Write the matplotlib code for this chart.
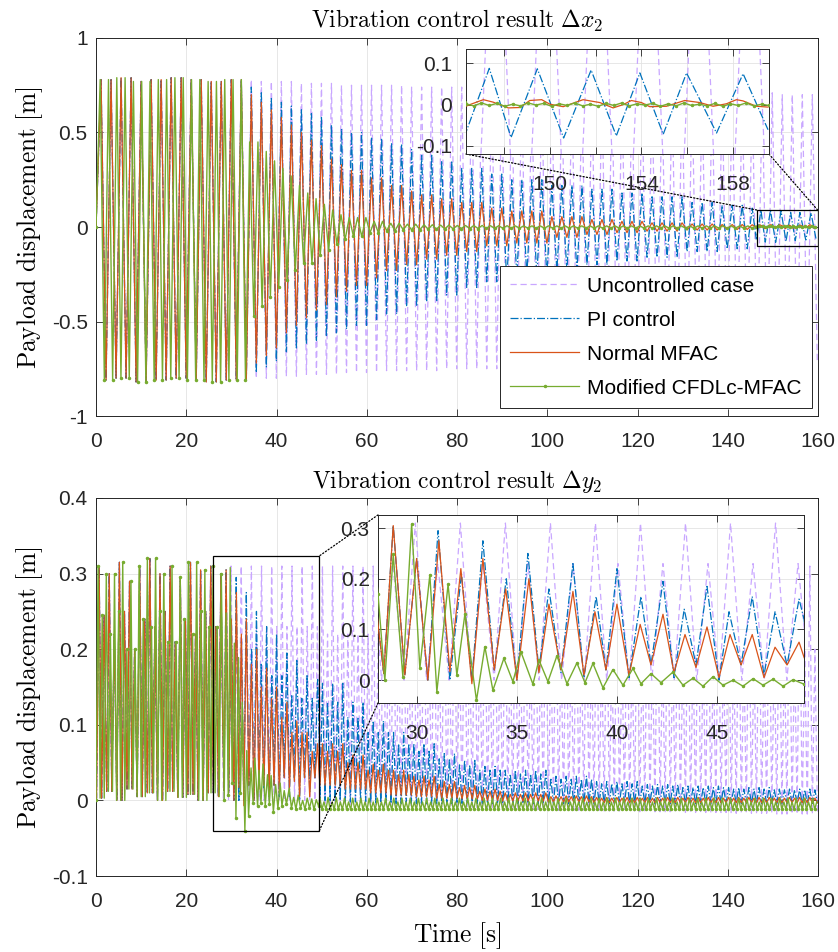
import numpy as np
import matplotlib.pyplot as plt
from matplotlib.lines import Line2D
from matplotlib.patches import Rectangle, ConnectionPatch

plt.rcParams['font.family'] = ['Liberation Sans', 'DejaVu Sans']
plt.rcParams['mathtext.fontset'] = 'cm'

# kolory (MATLAB)
c_unc = '#C9A7FF'
c_pi = '#0072BD'
c_mfac = '#D95319'
c_mod = '#77AC30'

T_END = 160.0

# ---------------- Delta x2 : obwiednie ----------------
hp_x = 1.11       # pol okresu wahan [s]
hp_x_mod = 0.92
# przed wlaczeniem sterowania (wspolne dla wszystkich przebiegow)
tx_free = [0, 4, 8, 12, 16, 20, 24, 28]
up_x_free = [0.78, 0.79, 0.77, 0.78, 0.79, 0.78, 0.77, 0.78]
lo_x_free = [-0.81, -0.80, -0.82, -0.81, -0.80, -0.81, -0.82, -0.81]
# po wlaczeniu sterowania
tx = [32, 34, 36, 38, 40, 42, 44, 46, 48, 50, 52, 54, 56, 60, 64, 68, 72,
      76, 80, 86, 92, 100, 108, 115, 122, 130, 138, 145, 152]
unc_x_up = [0.78, 0.78, 0.77, 0.77, 0.77, 0.77, 0.76, 0.76, 0.76, 0.76, 0.76, 0.75, 0.75, 0.75,
            0.75, 0.74, 0.74, 0.74, 0.74, 0.73, 0.73, 0.73, 0.72, 0.72, 0.72, 0.71, 0.71, 0.71, 0.70]
unc_x_lo = [-0.81, -0.80, -0.80, -0.80, -0.79, -0.79, -0.79, -0.78, -0.78, -0.78, -0.78, -0.77, -0.77, -0.77,
            -0.76, -0.76, -0.76, -0.75, -0.75, -0.75, -0.74, -0.74, -0.74, -0.73, -0.73, -0.73, -0.72, -0.72, -0.72]
pi_x_up = [0.78, 0.74, 0.71, 0.68, 0.66, 0.64, 0.62, 0.60, 0.58, 0.56, 0.54, 0.52, 0.50, 0.47,
           0.44, 0.41, 0.38, 0.35, 0.31, 0.28, 0.25, 0.22, 0.20, 0.18, 0.16, 0.13, 0.115, 0.10, 0.09]
pi_x_lo = [-0.81, -0.77, -0.74, -0.71, -0.68, -0.66, -0.64, -0.62, -0.60, -0.58, -0.56, -0.54, -0.52, -0.49,
           -0.46, -0.42, -0.39, -0.36, -0.32, -0.29, -0.26, -0.23, -0.20, -0.18, -0.16, -0.13, -0.115, -0.10, -0.09]
mfac_x_up = [0.78, 0.70, 0.66, 0.62, 0.58, 0.54, 0.50, 0.46, 0.43, 0.40, 0.36, 0.33, 0.30, 0.26,
             0.22, 0.19, 0.17, 0.15, 0.13, 0.10, 0.085, 0.055, 0.04, 0.03, 0.022, 0.016, 0.013, 0.012, 0.011]
mfac_x_lo = [-0.81, -0.72, -0.68, -0.64, -0.60, -0.56, -0.52, -0.48, -0.44, -0.41, -0.37, -0.34, -0.31, -0.27,
             -0.23, -0.20, -0.17, -0.15, -0.13, -0.10, -0.085, -0.055, -0.04, -0.03, -0.022, -0.016, -0.013, -0.012, -0.011]
mod_x_up = [0.78, 0.45, 0.40, 0.35, 0.31, 0.27, 0.22, 0.18, 0.15, 0.12, 0.09, 0.065, 0.05, 0.03,
            0.02, 0.015, 0.012, 0.01, 0.008, 0.007, 0.006, 0.006, 0.006, 0.006, 0.006, 0.006, 0.006, 0.006, 0.006]
mod_x_lo = [-0.81, -0.47, -0.42, -0.37, -0.32, -0.28, -0.23, -0.19, -0.15, -0.12, -0.09, -0.065, -0.05, -0.03,
            -0.02, -0.015, -0.012, -0.01, -0.008, -0.007, -0.006, -0.006, -0.006, -0.006, -0.006, -0.006, -0.006, -0.006, -0.006]

# powiekszenie 146.3 - 159.6 s
zx_lim = (146.33, 159.57)
pi_zx_t = [146.32, 147.35, 148.3, 149.45, 150.6, 151.8, 152.9, 153.93, 154.95, 155.97, 157.28, 158.44, 159.53]
pi_zx_v = [-0.069, 0.088, -0.080, 0.087, -0.081, 0.084, -0.076, 0.077, -0.072, 0.077, -0.069, 0.075, -0.061]
mfac_zx_t = [146.33, 146.5, 147.09, 147.52, 148.18, 148.69, 149.12, 149.64, 150.0, 150.58, 151.45, 152.18, 152.76,
             153.2, 153.56, 154.0, 154.36, 155.09, 155.89, 156.55, 157.13, 157.71, 158.15, 158.44, 159.02, 159.53]
mfac_zx_v = [-0.004, 0.0, 0.012, 0.006, -0.008, -0.007, 0.010, 0.012, 0.001, -0.005, 0.012, 0.005, -0.008,
             0.0, 0.010, 0.005, -0.005, -0.004, 0.010, 0.005, -0.004, 0.002, 0.012, 0.009, -0.004, -0.006]
mod_zx_t = [146.33, 146.67, 147.01, 147.35, 147.69, 148.03, 148.37, 148.71, 149.05, 149.39, 149.73, 150.07, 150.41,
            150.75, 151.09, 151.43, 151.77, 152.11, 152.45, 152.79, 153.13, 153.47, 153.81, 154.15, 154.49, 154.83,
            155.17, 155.51, 155.85, 156.19, 156.53, 156.87, 157.21, 157.55, 157.89, 158.23, 158.57, 158.91, 159.25, 159.57]
mod_zx_v = [0.002, -0.003, 0.004, -0.002, 0.003, -0.004, 0.001, -0.003, 0.004, -0.001, 0.003, -0.004, 0.002,
            -0.002, 0.004, -0.003, 0.001, -0.004, 0.003, -0.002, 0.004, -0.003, 0.002, -0.001, 0.003, -0.004,
            0.002, -0.003, 0.004, -0.002, 0.001, -0.003, 0.003, -0.004, 0.002, -0.002, 0.004, -0.003, 0.001, -0.002]

# ---------------- Delta y2 ----------------
hp_y = 0.5625
ph_y = 0.1125
hp_y_mod = 0.455
ty_free = [0, 2.25, 4.5, 6.75, 9, 11.25, 13.5, 15.75, 18, 20.25, 22.5, 24.75, 27]
hi_y_free = [0.31, 0.30, 0.315, 0.29, 0.31, 0.32, 0.30, 0.31, 0.295, 0.315, 0.305, 0.31, 0.30]
lo_y_free = [0.245, 0.22, 0.25, 0.20, 0.24, 0.23, 0.25, 0.21, 0.24, 0.22, 0.25, 0.23, 0.24]
tr_y_free = [0.003, 0.012, 0.0, 0.015, 0.005, 0.01, 0.0, 0.012, 0.004, 0.008, 0.0, 0.01, 0.005]
ty = [28.06, 49.35, 55, 60, 65, 70, 75, 80, 85, 90, 100, 110, 120, 130, 140, 150]
unc_y_hi = [0.31, 0.31, 0.31, 0.31, 0.31, 0.31, 0.31, 0.31, 0.31, 0.31, 0.31, 0.31, 0.31, 0.31, 0.31, 0.31]
unc_y_lo = [0.23, 0.22, 0.22, 0.22, 0.22, 0.22, 0.21, 0.21, 0.21, 0.21, 0.21, 0.20, 0.20, 0.20, 0.20, 0.20]
unc_y_tr = [0.0, -0.004, -0.005, -0.006, -0.007, -0.008, -0.009, -0.010, -0.011, -0.012, -0.013, -0.014,
            -0.015, -0.016, -0.017, -0.018]
pi_y_hi = [0.31, 0.155, 0.13, 0.105, 0.09, 0.075, 0.062, 0.053, 0.045, 0.04, 0.032, 0.025, 0.021, 0.019, 0.017, 0.015]
pi_y_lo = [0.245, 0.13, 0.11, 0.09, 0.075, 0.065, 0.055, 0.047, 0.04, 0.035, 0.028, 0.022, 0.019, 0.017, 0.015, 0.014]
pi_y_tr = [0.003, 0.0, -0.002, -0.003, -0.004, -0.004, -0.004, -0.004, -0.004, -0.004, -0.004, -0.004,
           -0.004, -0.004, -0.004, -0.004]
mfac_y_hi = [0.31, 0.075, 0.06, 0.048, 0.04, 0.032, 0.025, 0.02, 0.015, 0.01, 0.006, 0.004, 0.004, 0.004, 0.004, 0.004]
mfac_y_lo = [0.245, 0.065, 0.05, 0.04, 0.034, 0.027, 0.021, 0.017, 0.012, 0.008, 0.005, 0.003, 0.003, 0.003, 0.003, 0.003]
mfac_y_tr = [0.003, 0.02, 0.015, 0.01, 0.007, 0.005, 0.003, 0.002, 0.0, -0.001, -0.002, -0.003,
             -0.003, -0.003, -0.003, -0.003]
mod_y_hi = [0.31, 0.004, 0.003, 0.003, 0.003, 0.003, 0.003, 0.003, 0.003, 0.003, 0.003, 0.003, 0.003, 0.003, 0.003, 0.003]
mod_y_lo = [0.245, -0.002, -0.002, -0.002, -0.002, -0.002, -0.002, -0.002, -0.002, -0.002, -0.002, -0.002,
            -0.002, -0.002, -0.002, -0.002]
mod_y_tr = [0.0, -0.012, -0.012, -0.012, -0.012, -0.012, -0.012, -0.012, -0.012, -0.012, -0.012, -0.012,
            -0.012, -0.012, -0.012, -0.012]

# powiekszenie 28 - 49.4 s (ekstrema)
zy_lim = (28.06, 49.35)
pi_zy_t = [28.06, 28.35, 28.82, 29.4, 29.99, 30.55, 31.06, 31.65, 32.23, 32.75, 33.3, 33.87, 34.47, 35.0,
           35.55, 36.1, 36.6, 37.2, 37.8, 38.35, 38.96, 39.45, 40.0, 40.6, 41.2, 41.7, 42.3, 42.85, 43.36,
           43.95, 44.5, 45.1, 45.6, 46.2, 46.76, 47.35, 47.9, 48.5, 49.1, 49.35]
pi_zy_v = [0.11, 0.013, 0.305, 0.01, 0.24, 0.0, 0.295, 0.0, 0.21, 0.0, 0.275, 0.02, 0.2, 0.0,
           0.25, 0.02, 0.18, 0.015, 0.23, 0.005, 0.165, 0.02, 0.22, 0.005, 0.165, 0.03, 0.195, 0.005, 0.14,
           0.03, 0.185, 0.0, 0.135, 0.03, 0.165, 0.01, 0.135, 0.03, 0.16, 0.12]
mfac_zy_t = [28.06, 28.35, 28.82, 29.4, 29.99, 30.55, 31.1, 31.65, 32.2, 32.75, 33.3, 33.87, 34.44, 35.0,
             35.6, 36.1, 36.6, 37.2, 37.8, 38.35, 38.9, 39.45, 40.0, 40.6, 41.16, 41.7, 42.3, 42.85, 43.4,
             43.95, 44.5, 45.1, 45.65, 46.2, 46.76, 47.35, 47.9, 48.5, 49.1, 49.35]
mfac_zy_v = [0.11, 0.013, 0.305, 0.01, 0.24, 0.0, 0.275, 0.017, 0.22, -0.007, 0.24, 0.02, 0.18, 0.0,
             0.2, 0.015, 0.15, 0.02, 0.175, 0.01, 0.135, 0.02, 0.15, 0.01, 0.11, 0.03, 0.13, 0.015, 0.09,
             0.025, 0.105, 0.005, 0.09, 0.03, 0.09, 0.005, 0.065, 0.03, 0.075, 0.045]
mod_zy_t = [28.06, 28.4, 28.82, 29.3, 29.74, 30.15, 30.65, 31.0, 31.56, 32.0, 32.4, 32.98, 33.4, 33.8, 34.35,
            34.8, 35.2, 35.8, 36.1, 36.55, 37.0, 37.5, 38.0, 38.4, 38.8, 39.3, 39.8, 40.3, 40.8, 41.2, 41.7,
            42.2, 42.8, 43.3, 43.8, 44.3, 44.8, 45.3, 45.8, 46.3, 46.8, 47.3, 47.8, 48.3, 48.8, 49.35]
mod_zy_v = [0.17, 0.0, 0.248, 0.007, 0.308, 0.023, 0.208, -0.023, 0.189, 0.01, 0.13, -0.04, 0.066, -0.02, 0.043,
            -0.003, 0.056, -0.008, 0.04, -0.003, 0.048, -0.007, 0.034, -0.005, 0.033, -0.015, 0.021, -0.01, 0.023,
            -0.007, 0.013, -0.005, 0.016, -0.01, 0.004, -0.012, 0.007, -0.01, 0.0, -0.012, 0.003, -0.01, 0.002,
            -0.012, 0.001, -0.008]


def swing2(t_end, hp, tk, up, lo):
    # kolejne ekstrema: szczyt / dolina, amplituda z obwiedni
    tk = np.r_[tx_free, tk]
    up = np.r_[up_x_free, up]
    lo = np.r_[lo_x_free, lo]
    t = np.arange(0, t_end, hp)
    k = np.arange(len(t))
    idx = np.searchsorted(tk, t, side='right') - 1
    y = np.where(k % 2 == 1, up[idx], lo[idx])
    y[0] = 0.0
    return t, y


def swing3(t_end, hp, ph, tk, hi, lo, tr):
    # dolina / wysoki szczyt / dolina / nizszy szczyt
    tk = np.r_[ty_free, tk]
    hi = np.r_[hi_y_free, hi]
    lo = np.r_[lo_y_free, lo]
    tr = np.r_[tr_y_free, tr]
    t = np.arange(ph, t_end, hp)
    k = np.arange(len(t))
    idx = np.searchsorted(tk, t, side='right') - 1
    y = np.select([k % 4 == 1, k % 4 == 3], [hi[idx], lo[idx]], tr[idx])
    return np.r_[0, t], np.r_[0, y]


def splice(t, y, t0, t1, zt, zv):
    a = t < t0
    b = t > t1
    return np.r_[t[a], zt, t[b]], np.r_[y[a], zv, y[b]]


# sygnaly - gora
t_unc_x, y_unc_x = swing2(T_END, hp_x, tx, unc_x_up, unc_x_lo)
t_pi_x, y_pi_x = splice(*swing2(T_END, hp_x, tx, pi_x_up, pi_x_lo), zx_lim[0], 170, pi_zx_t, pi_zx_v)
t_mfac_x, y_mfac_x = splice(*swing2(T_END, hp_x, tx, mfac_x_up, mfac_x_lo), zx_lim[0], 170, mfac_zx_t, mfac_zx_v)
t_mod_x, y_mod_x = splice(*swing2(T_END, hp_x_mod, tx, mod_x_up, mod_x_lo), zx_lim[0], 170, mod_zx_t, mod_zx_v)

# sygnaly - dol
t_unc_y, y_unc_y = swing3(T_END, hp_y, ph_y, ty, unc_y_hi, unc_y_lo, unc_y_tr)
t_pi_y, y_pi_y = splice(*swing3(T_END, hp_y, ph_y, ty, pi_y_hi, pi_y_lo, pi_y_tr), zy_lim[0], zy_lim[1], pi_zy_t, pi_zy_v)
t_mfac_y, y_mfac_y = splice(*swing3(T_END, hp_y, ph_y, ty, mfac_y_hi, mfac_y_lo, mfac_y_tr), zy_lim[0], zy_lim[1],
                            mfac_zy_t, mfac_zy_v)
t_mod_y, y_mod_y = splice(*swing3(T_END, hp_y_mod, 0.0, ty, mod_y_hi, mod_y_lo, mod_y_tr), zy_lim[0], zy_lim[1],
                          mod_zy_t, mod_zy_v)

ink = '#262626'
dash_unc = (0, (5, 3))


def style(ax, xpad=11.5, ypad=6):
    ax.tick_params(direction='in', length=5, width=0.6, top=True, right=True, labelsize=15, colors=ink)
    ax.tick_params(axis='x', pad=xpad)
    ax.tick_params(axis='y', pad=ypad)
    for s in ax.spines.values():
        s.set_color(ink)
        s.set_linewidth(0.7)
    ax.grid(True, color='#E3E3E3', lw=0.6)
    ax.set_axisbelow(True)


def draw(ax, unc, pi, mfac, mod, mev=2):
    ax.plot(*unc, color=c_unc, ls=dash_unc, lw=0.9, zorder=1)
    ax.plot(*pi, color=c_pi, ls='-.', lw=0.9, zorder=2)
    ax.plot(*mfac, color=c_mfac, lw=0.9, zorder=3)
    ax.plot(*mod, color=c_mod, lw=1.0, marker='.', ms=3, markevery=mev, zorder=4)


fig = plt.figure(figsize=(8.38, 9.52), dpi=100)
ax1 = fig.add_axes([0.1146, 0.5630, 0.8616, 0.3971])
ax2 = fig.add_axes([0.1146, 0.0798, 0.8616, 0.3971])

sx = [(t_unc_x, y_unc_x), (t_pi_x, y_pi_x), (t_mfac_x, y_mfac_x), (t_mod_x, y_mod_x)]
sy = [(t_unc_y, y_unc_y), (t_pi_y, y_pi_y), (t_mfac_y, y_mfac_y), (t_mod_y, y_mod_y)]

for ax, s in [(ax1, sx), (ax2, sy)]:
    draw(ax, *s)
    style(ax)
    ax.set_xlim(0, 160)
    ax.set_xticks(np.arange(0, 161, 20))
    ax.set_ylabel(r'$\mathrm{Payload\ displacement\ [m]}$', fontsize=18.3, color='k', labelpad=5)

ax1.set_ylim(-1, 1)
ax1.set_yticks([-1, -0.5, 0, 0.5, 1])
ax1.set_yticklabels(['-1', '-0.5', '0', '0.5', '1'])
ax1.set_title(r'$\mathrm{Vibration\ control\ result}\ \Delta x_2$', fontsize=17, pad=7)

ax2.set_ylim(-0.1, 0.4)
ax2.set_yticks([-0.1, 0, 0.1, 0.2, 0.3, 0.4])
ax2.set_yticklabels(['-0.1', '0', '0.1', '0.2', '0.3', '0.4'])
ax2.set_title(r'$\mathrm{Vibration\ control\ result}\ \Delta y_2$', fontsize=17, pad=7)
ax2.set_xlabel(r'$\mathrm{Time\ [s]}$', fontsize=18.3, labelpad=7)

# legenda
handles = [Line2D([], [], color=c_unc, ls=dash_unc, lw=0.9),
           Line2D([], [], color=c_pi, ls='-.', lw=0.9),
           Line2D([], [], color=c_mfac, lw=0.9),
           Line2D([], [], color=c_mod, lw=0.9, marker='.', ms=3)]
labels = ['Uncontrolled case', 'PI control', 'Normal MFAC', 'Modified CFDLc-MFAC']
leg = ax1.legend(handles, labels, loc='lower right', bbox_to_anchor=(0.992, 0.021), fontsize=15,
                 frameon=True, fancybox=False, edgecolor=ink, framealpha=1, handlelength=3.3,
                 handletextpad=0.4, labelspacing=0.72, borderpad=0.5, borderaxespad=0)
leg.get_frame().set_linewidth(0.7)
leg.set_zorder(10)

# ramki powiekszen
ax1.add_patch(Rectangle((146.4, -0.1), 13.5, 0.19, fill=False, ec='k', lw=0.9, zorder=6))
ax2.add_patch(Rectangle((25.9, -0.041), 23.5, 0.364, fill=False, ec='k', lw=0.9, zorder=6))

# wstawka gorna
ins1 = fig.add_axes([0.556, 0.8382, 0.3616, 0.1103])
draw(ins1, *sx, mev=1)
style(ins1, xpad=15, ypad=10)
ins1.set_xlim(*zx_lim)
ins1.set_ylim(-0.12, 0.135)
ins1.set_xticks([148, 150, 152, 154, 156, 158])
ins1.set_xticklabels(['', '150', '', '154', '', '158'])
ins1.set_yticks([-0.1, 0, 0.1])
ins1.set_yticklabels(['-0.1', '0', '0.1'])
ins1.set_zorder(5)

# wstawka dolna
ins2 = fig.add_axes([0.4511, 0.2616, 0.5084, 0.1975])
draw(ins2, *sy, mev=1)
style(ins2, xpad=15, ypad=6)
ins2.set_xlim(*zy_lim)
ins2.set_ylim(-0.045, 0.326)
ins2.set_xticks([30, 35, 40, 45])
ins2.set_yticks([0, 0.1, 0.2, 0.3])
ins2.set_yticklabels(['0', '0.1', '0.2', '0.3'])
ins2.set_zorder(5)

# linie laczace
for ins, pa, ax, pb in [(ins1, (0, 0), ax1, (146.4, 0.09)), (ins1, (1, 0), ax1, (159.9, 0.09)),
                        (ins2, (0, 1), ax2, (49.4, 0.323)), (ins2, (0, 0), ax2, (49.4, -0.041))]:
    con = ConnectionPatch(xyA=pa, coordsA=ins.transAxes, xyB=pb, coordsB=ax.transData,
                          ls=':', color='k', lw=0.9)
    fig.add_artist(con)

fig.savefig('out.png', dpi=100)
